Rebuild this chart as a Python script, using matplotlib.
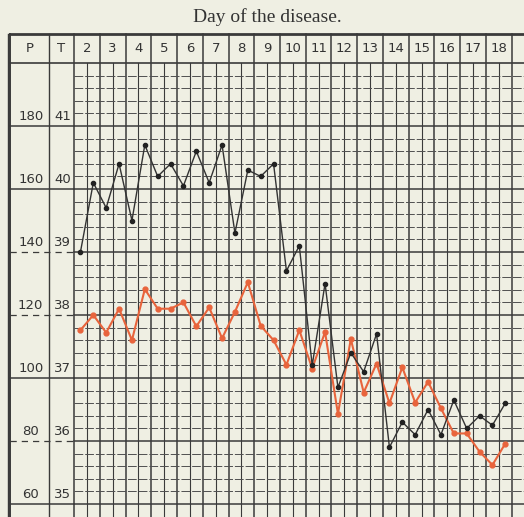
import numpy as np
import matplotlib
matplotlib.use('Agg')
from matplotlib import pyplot

PAPER = '#efefe3'
INK = '#3a3a3a'
RED = '#e8643c'

# days of the disease, morning and evening readings for each
days = list(range(2, 19))
temp_labels = [41, 40, 39, 38, 37, 36, 35]
pulse_labels = [180, 160, 140, 120, 100, 80, 60]

# temperature (deg C), two readings a day, day 2 .. day 18
temperature = [37.76, 38.00, 37.72, 38.10, 37.60, 38.41, 38.10, 38.10,
               38.20, 37.82, 38.12, 37.63, 38.05, 38.52, 37.83, 37.60,
               37.21, 37.76, 37.15, 37.73, 36.43, 37.62, 36.77, 37.23,
               36.60, 37.17, 36.61, 36.94, 36.52, 36.12, 36.12, 35.83,
               35.62, 35.96]

# pulse (beats per minute), same readings
pulse = [140, 162, 154, 168, 150, 174, 164, 168,
         161, 172, 162, 174, 146, 166, 164, 168,
         134, 142, 104, 130, 97, 108, 102, 114,
         78, 86, 82, 90, 82, 93, 84, 88,
         85, 92]

times = [d + h for d in days for h in (0.25, 0.75)]

# chart frame, in (day, deg C) units
x_left, x_right = -0.874, 19.476
y_bot, y_top = 34.794, 43.0
p_col = (-0.49, 1.03)
t_col = (1.03, 2.0)
grid_top = 42.0
head_top = 42.46

label_kw = dict(ha='center', va='center', color='#333333', fontsize=9.5)


def pulse_of(t):
    return 100 + (t - 37) * 20


fig = pyplot.figure(figsize=(5.24, 5.17), dpi=100)
fig.patch.set_facecolor(PAPER)
ax = fig.add_axes([0, 0, 1, 1])
ax.set_facecolor(PAPER)
ax.set_xlim(x_left, x_right)
ax.set_ylim(y_bot, y_top)
ax.axis('off')

x_end = days[-1] + 1.5

# fine grid: two columns a day, five rows a degree
for i in range(int((x_end - 2) * 2) + 1):
    x = 2 + i * 0.5
    if i % 2 == 0:
        ax.plot([x, x], [y_bot, head_top], color=INK, lw=1.1, zorder=1)
    else:
        ax.plot([x, x], [y_bot, grid_top], color=INK, lw=0.8, zorder=1)

for k in range(int(round((grid_top - y_bot) / 0.2)) + 1):
    y = grid_top - k * 0.2
    if k % 5 == 0:
        continue
    ax.plot([2, x_end], [y, y], color='#505050', lw=0.7,
            ls=(0, (9, 2)), zorder=1)

# whole-degree lines run across the label columns as well
for t in temp_labels:
    ax.plot([2, x_end], [t, t], color=INK, lw=1.1, zorder=1)
    if t in (41, 40, 37, 35):
        ax.plot([p_col[0], 2], [t, t], color=INK, lw=1.1, zorder=1)
    else:
        ax.plot([p_col[0], 2], [t, t], color=INK, lw=0.9,
                ls=(0, (5, 4)), zorder=1)
ax.plot([p_col[0], x_end], [grid_top, grid_top], color=INK, lw=1.2)
ax.plot([p_col[0], x_end], [head_top, head_top], color=INK, lw=2.0)
ax.plot([p_col[0] - 0.08, p_col[0] - 0.08], [y_bot, head_top], color=INK, lw=1.0)
ax.plot([p_col[0], p_col[0]], [y_bot, head_top], color=INK, lw=1.4)
ax.plot([t_col[0], t_col[0]], [y_bot, head_top], color=INK, lw=1.0)

# header row
head_y = (grid_top + head_top) / 2
ax.text(np.mean(p_col), head_y, 'P', **label_kw)
ax.text(np.mean(t_col), head_y, 'T', **label_kw)
for d in days:
    ax.text(d + 0.5, head_y, str(d), **label_kw)
ax.text(9.51, 42.73, 'Day of the disease.', ha='center', va='center',
        fontsize=14, family='Liberation Serif', color='#333333')

# scale labels sit just above their line
for p, t in zip(pulse_labels, temp_labels):
    ax.text(np.mean(p_col) + 0.05, t + 0.15, str(p), **label_kw)
    ax.text(np.mean(t_col) + 0.05, t + 0.15, str(t), **label_kw)

# temperature curve
ax.plot(times, temperature, color=RED, lw=1.5, marker='o', ms=3.5,
        mec=RED, mfc=RED, zorder=4)

# pulse curve on its own scale
ax2 = ax.twinx()
ax2.set_ylim(pulse_of(y_bot), pulse_of(y_top))
ax2.axis('off')
ax2.plot(times, pulse, color='#333333', lw=1.0, marker='o', ms=3,
         mec='#222222', mfc='#222222', zorder=5)

pyplot.savefig('out.png', dpi=100, facecolor=PAPER)
